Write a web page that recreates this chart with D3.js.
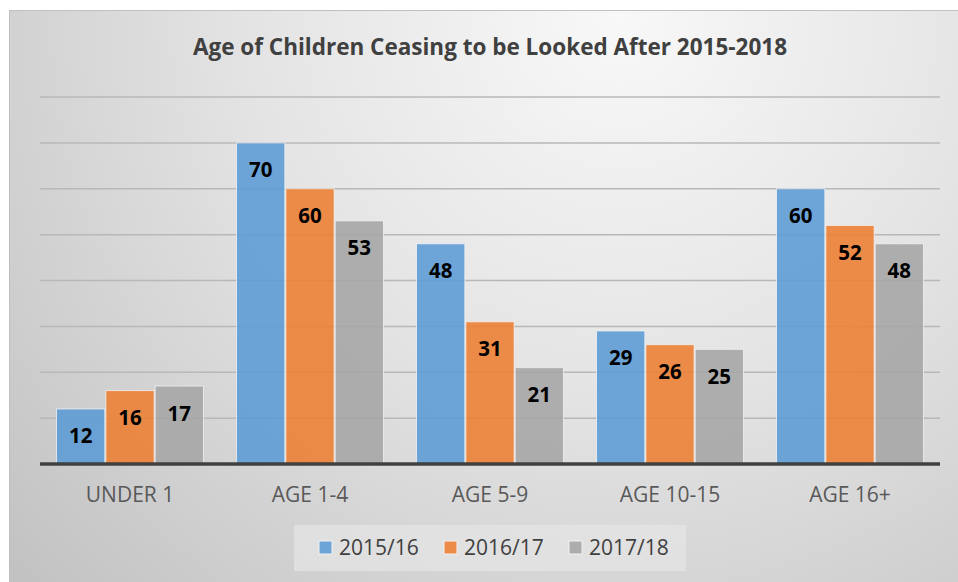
<!DOCTYPE html>
<html><head><meta charset="utf-8">
<script src="https://cdn.jsdelivr.net/npm/d3@7"></script>
<style>html,body{margin:0;padding:0;background:#fff;overflow:hidden}</style>
</head><body>
<script>
const categories = ["UNDER 1", "AGE 1-4", "AGE 5-9", "AGE 10-15", "AGE 16+"];
const seriesNames = ["2015/16", "2016/17", "2017/18"];
const values2015 = [12, 70, 48, 29, 60];
const values2016 = [16, 60, 31, 26, 52];
const values2017 = [17, 53, 21, 25, 48];
const yTicks = [0, 10, 20, 30, 40, 50, 60, 70, 80];
const colors = ["#5B9BD5", "#ED7D31", "#A5A5A5"];
const title = "Age of Children Ceasing to be Looked After 2015-2018";
const FONT = "'Open Sans', sans-serif";

const W = 958, H = 582;
const svg = d3.select("body").append("svg").attr("width", W).attr("height", H);
const defs = svg.append("defs");
const rg = defs.append("radialGradient").attr("id", "bg").attr("gradientUnits", "userSpaceOnUse")
  .attr("cx", 620).attr("cy", 20).attr("r", 820);
rg.append("stop").attr("offset", 0).attr("stop-color", "#f8f8f8");
rg.append("stop").attr("offset", 0.45).attr("stop-color", "#e4e4e4");
rg.append("stop").attr("offset", 1).attr("stop-color", "#c2c2c2");

svg.append("rect").attr("x", 9.5).attr("y", 10.5).attr("width", 960).attr("height", 590)
  .attr("fill", "url(#bg)").attr("stroke", "#c0c0c0").attr("stroke-width", 1);

const pL = 40, pR = 940, pT = 97, pB = 464;
const x0 = d3.scaleBand().domain(categories).range([pL, pR]).paddingInner(0.178).paddingOuter(0.089);
const x1 = d3.scaleBand().domain(seriesNames).range([0, x0.bandwidth()]).padding(0);
const y = d3.scaleLinear().domain([0, 80]).range([pB, pT]);

// gridlines
svg.append("g").selectAll("line").data(yTicks.filter(d => d > 0)).join("line")
  .attr("x1", pL).attr("x2", pR).attr("y1", d => y(d)).attr("y2", d => y(d))
  .attr("stroke", "#b8b8b8").attr("stroke-width", 1.5);

const data = categories.map((c, i) => ({ cat: c, vals: [values2015[i], values2016[i], values2017[i]] }));

const groups = svg.append("g").selectAll("g").data(data).join("g")
  .attr("transform", d => `translate(${x0(d.cat)},0)`);
groups.selectAll("rect").data(d => d.vals.map((v, j) => ({ v, s: seriesNames[j], j }))).join("rect")
  .attr("x", d => x1(d.s) + 0.5).attr("width", x1.bandwidth() - 1)
  .attr("y", d => y(d.v)).attr("height", d => pB - y(d.v))
  .attr("fill", d => colors[d.j]).attr("fill-opacity", 0.88)
  .attr("stroke", "#f2f2f2").attr("stroke-opacity", 0.8).attr("stroke-width", 1);
groups.selectAll("text").data(d => d.vals.map((v, j) => ({ v, s: seriesNames[j], j }))).join("text")
  .attr("x", d => x1(d.s) + x1.bandwidth() / 2).attr("y", d => y(d.v) + 34.5)
  .attr("text-anchor", "middle").attr("font-family", FONT)
  .attr("font-weight", "bold").attr("font-size", 20.5).attr("fill", "#000")
  .text(d => d.v);

// axis baseline
const xAxis = svg.append("g").attr("transform", `translate(0,${pB})`)
  .call(d3.axisBottom(x0).tickSize(0).tickPadding(23.5));
xAxis.select(".domain").attr("stroke", "#404040").attr("stroke-width", 3.5).attr("d", `M${pL},0H${pR}`);
xAxis.selectAll("text").attr("font-family", FONT).attr("font-size", 21)
  .attr("fill", "#595959");

// title
svg.append("text").attr("x", 490).attr("y", 55).attr("text-anchor", "middle")
  .attr("font-family", FONT).attr("font-weight", "bold")
  .attr("font-size", 22.5).attr("fill", "#404040").text(title);

// legend
const lg = svg.append("g");
lg.append("rect").attr("x", 294).attr("y", 525).attr("width", 392).attr("height", 46)
  .attr("fill", "#e6e6e6").attr("fill-opacity", 0.7);
const lx = [319, 444, 569];
seriesNames.forEach((s, i) => {
  lg.append("rect").attr("x", lx[i]).attr("y", 541).attr("width", 13).attr("height", 13)
    .attr("fill", colors[i]).attr("fill-opacity", 0.88).attr("stroke", "#f2f2f2").attr("stroke-width", 1);
  lg.append("text").attr("x", lx[i] + 20).attr("y", 555)
    .attr("font-family", FONT).attr("font-size", 21).attr("fill", "#404040").text(s);
});
</script>
</body></html>
